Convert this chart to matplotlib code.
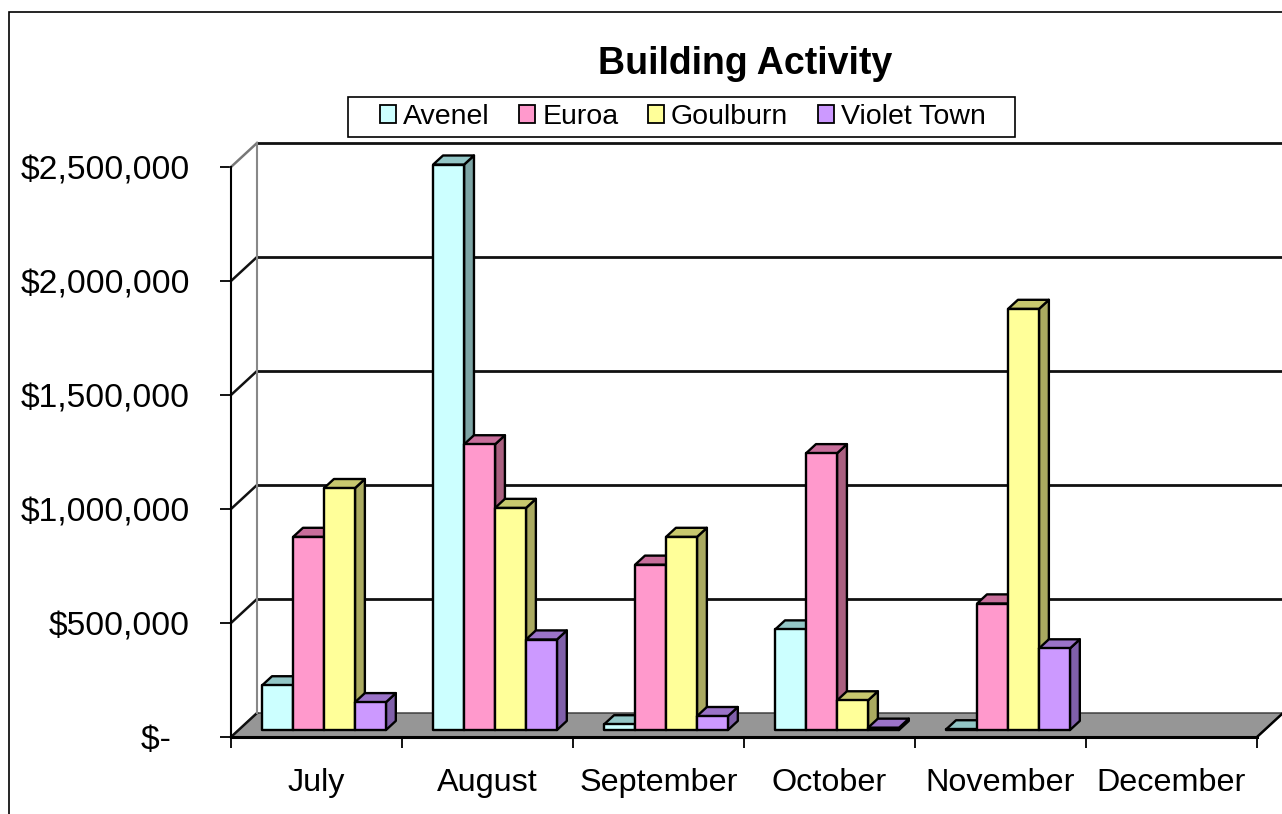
import matplotlib
matplotlib.use('Agg')
import matplotlib.pyplot as plt
from matplotlib.patches import Polygon, Rectangle, Patch
from matplotlib.ticker import FuncFormatter, FixedLocator, FixedFormatter

# ---------------- data ----------------
months = ["July", "August", "September", "October", "November", "December"]
series = ["Avenel", "Euroa", "Goulburn", "Violet Town"]
avenel = [196000, 2480000, 25000, 441000, 3000, None]
euroa = [847000, 1253000, 725000, 1214000, 555000, None]
goulburn = [1061000, 974000, 847000, 130000, 1847000, None]
violet_town = [122000, 397000, 61000, 10000, 358000, None]
y_ticks = [0, 500000, 1000000, 1500000, 2000000, 2500000]
title = "Building Activity"

front_colors = ["#CCFFFF", "#FF99CC", "#FFFF99", "#CC99FF"]
top_colors = ["#93C6C6", "#C86E9B", "#C8C86E", "#9B73C8"]
side_colors = ["#7DA5A5", "#AA6080", "#AAAA60", "#8060AA"]

plt.rcParams['font.family'] = ['Liberation Sans', 'DejaVu Sans']

W, H = 1282, 814
fig = plt.figure(figsize=(W / 100, H / 100), dpi=100)
fig.patch.set_facecolor('white')

ax = fig.add_axes([231 / W, 77 / H, 1026 / W, 570 / H])
ax.set_xlim(0, len(months))
ax.set_ylim(0, 2500000)
ax.patch.set_facecolor('none')

# oblique depth (full floor depth) in data units
DX = 26 * len(months) / 1026.0
DY = 24 * 2500000 / 570.0


def P(x, v, f):
    return (x + f * DX, v + f * DY)


# floor
floor = Polygon([P(0, 0, 0), P(len(months), 0, 0), P(len(months), 0, 1), P(0, 0, 1)],
                closed=True, facecolor='#969696', edgecolor='#333333', lw=1.0,
                clip_on=False, zorder=1)
ax.add_patch(floor)
ax.plot([len(months), len(months) + DX], [0, DY], color='black', lw=1.8,
        clip_on=False, zorder=1.5, solid_capstyle='round')

# walls / gridlines
for i, v in enumerate(y_ticks):
    col = '#777777' if v == y_ticks[-1] else '#111111'
    ax.plot([0, DX], [v, v + DY], color=col, lw=1.8, clip_on=False, zorder=2)
    if v > 0:
        ax.plot([DX, len(months) + DX], [v + DY, v + DY], color='#111111', lw=2.0,
                clip_on=False, zorder=2)
ax.plot([DX, DX], [DY, y_ticks[-1] + DY], color='#888888', lw=1.5, clip_on=False, zorder=2)

# bars
f0, f1 = 0.29, 0.67
w = 0.181
all_series = [avenel, euroa, goulburn, violet_town]
z = 3.0
for ci in range(len(months)):
    for j, vals in enumerate(all_series):
        v = vals[ci]
        if v is None:
            continue
        x0 = ci + 0.5 - 2 * w + j * w
        x1 = x0 + w
        kw = dict(closed=True, edgecolor='black', lw=1.7, joinstyle='round', clip_on=False)
        side = Polygon([P(x1, 0, f0), P(x1, v, f0), P(x1, v, f1), P(x1, 0, f1)],
                       facecolor=side_colors[j], zorder=z, **kw)
        top = Polygon([P(x0, v, f0), P(x1, v, f0), P(x1, v, f1), P(x0, v, f1)],
                      facecolor=top_colors[j], zorder=z + 0.001, **kw)
        front = Polygon([P(x0, 0, f0), P(x1, 0, f0), P(x1, v, f0), P(x0, v, f0)],
                        facecolor=front_colors[j], zorder=z + 0.002, **kw)
        ax.add_patch(side)
        ax.add_patch(top)
        ax.add_patch(front)
        z += 0.01

# axes spines and ticks
for s in ['top', 'right']:
    ax.spines[s].set_visible(False)
ax.spines['left'].set_linewidth(1.5)
ax.spines['bottom'].set_linewidth(2.2)
ax.spines['left'].set_zorder(2.6)
ax.spines['bottom'].set_zorder(2.6)

ax.set_yticks(y_ticks)
ax.yaxis.set_major_formatter(FuncFormatter(lambda v, p: "$-  " if v == 0 else f"${v:,.0f}"))
ax.tick_params(axis='y', direction='out', length=7.9, width=1.3, pad=21.6, labelsize=24.2)

ax.xaxis.set_major_locator(FixedLocator(list(range(len(months) + 1))))
ax.xaxis.set_minor_locator(FixedLocator([i + 0.5 for i in range(len(months))]))
ax.xaxis.set_minor_formatter(FixedFormatter(months))
ax.tick_params(axis='x', which='major', direction='out', length=7.9, width=1.3, labelbottom=False)
ax.tick_params(axis='x', which='minor', length=0, pad=22, labelsize=23.3)

# title
fig.text(745 / W, 1 - 74 / H, title, ha='center', va='baseline', fontsize=27, fontweight='bold')

# legend (frame drawn separately)
handles = [Patch(facecolor=front_colors[j], edgecolor='black', lw=1.3, label=series[j])
           for j in range(len(series))]
leg = fig.legend(handles=handles, loc='center', bbox_to_anchor=(683 / W, 1 - 117 / H),
                 ncol=4, frameon=False, fontsize=20.5,
                 handlelength=0.55, handleheight=0.55, handletextpad=0.25,
                 columnspacing=1.05, borderpad=0.2, borderaxespad=0)
fig.add_artist(Rectangle((348 / W, 1 - 137 / H), 667 / W, 40 / H, transform=fig.transFigure,
                         fill=False, edgecolor='black', lw=1.2))

# outer chart border
fig.add_artist(Rectangle((9 / W, -0.1), 1.2, (1 - 12 / H) + 0.1, transform=fig.transFigure,
                         fill=False, edgecolor='black', lw=1.2))

fig.savefig('out.png', dpi=100)
